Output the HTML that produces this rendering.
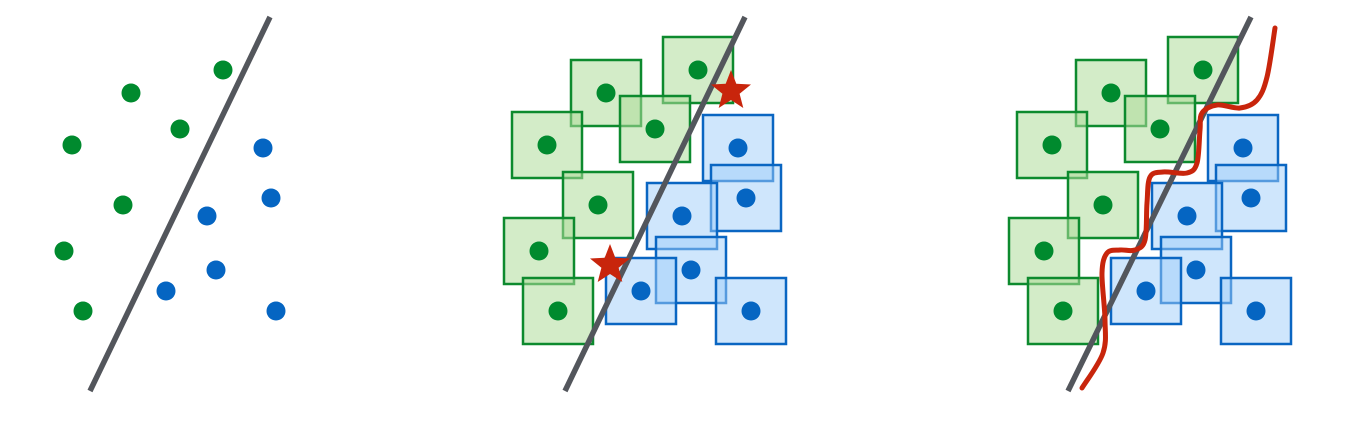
<!DOCTYPE html>
<html><head><meta charset="utf-8"><style>html,body{margin:0;padding:0;background:#fff}svg{display:block}</style></head>
<body>
<svg id="chart" width="1352" height="428" viewBox="0 0 1352 428" xmlns="http://www.w3.org/2000/svg"></svg>
<script>
const greenX=[223,131,72,180,123,64,83];
const greenY=[70,93,145,129,205,251,311];
const blueX=[263,271,207,216,166,276];
const blueY=[148,198,216,270,291,311];
const panelOffsets=[0,475,980];
const starX=[256,135];
const starY=[91,265];
const curveX=[102,123,125,122,127,140,155,165,167,170,183,207,217,220,222,237,260,277,287,295];
const curveY=[388,353,320,273,253,250,250,240,203,177,172,173,163,130,113,105,108,100,77,28];
const NS="http://www.w3.org/2000/svg";
const svg=document.getElementById('chart');
function mk(tag,attrs,parent){const e=document.createElementNS(NS,tag);for(const k in attrs)e.setAttribute(k,attrs[k]);(parent||svg).appendChild(e);return e;}
const sx=(v,p)=>v+panelOffsets[p];
panelOffsets.forEach((off,p)=>{
  const g=mk('g',{});
  
  
  if(p>0){
    greenX.forEach((x,i)=>{const r=mk('rect',{x:sx(x,p)-35,y:greenY[i]-33,width:70,height:66,fill:'rgba(175,221,155,0.55)',stroke:'#0d8a2e','stroke-width':2.5},g);
      
      });
    blueX.forEach((x,i)=>{const r=mk('rect',{x:sx(x,p)-35,y:blueY[i]-33,width:70,height:66,fill:'rgba(160,205,250,0.5)',stroke:'#0a66c2','stroke-width':2.5},g);
      
      });
  }
  const ln=mk('line',{x1:90+off+(p==2?-2:0),y1:391,x2:270+off+(p==2?1:0),y2:17,stroke:'#53565c','stroke-width':5.5},g);
  
  
  greenX.forEach((x,i)=>{const c=mk('circle',{cx:sx(x,p),cy:greenY[i],r:9.5,fill:'#008a2e'},g);
    
    });
  blueX.forEach((x,i)=>{const c=mk('circle',{cx:sx(x,p),cy:blueY[i],r:9.5,fill:'#0565c2'},g);
    
    });
  if(p==1){
    starX.forEach((x,i)=>{
      const cx=sx(x,p),cy=starY[i];let pts=[];
      for(let k=0;k<10;k++){const a=-Math.PI/2+k*Math.PI/5,r=k%2?9:21;pts.push((cx+r*Math.cos(a)).toFixed(1)+','+(cy+r*Math.sin(a)).toFixed(1));}
      const s=mk('polygon',{points:pts.join(' '),fill:'#c8250c'},g);
      
      
    });
  }
  if(p==2){
    const P=curveX.map((x,i)=>[sx(x,p),curveY[i]]);
    let d='M'+P[0][0]+','+P[0][1];
    for(let i=0;i<P.length-1;i++){
      const p0=P[Math.max(0,i-1)],p1=P[i],p2=P[i+1],p3=P[Math.min(P.length-1,i+2)];
      const c1=[p1[0]+(p2[0]-p0[0])/6,p1[1]+(p2[1]-p0[1])/6];
      const c2=[p2[0]-(p3[0]-p1[0])/6,p2[1]-(p3[1]-p1[1])/6];
      d+=' C'+c1.join(',')+' '+c2.join(',')+' '+p2.join(',');
    }
    const c=mk('path',{d:d,fill:'none',stroke:'#c8250c','stroke-width':5,'stroke-linecap':'round','stroke-linejoin':'round'},g);
    
    
  }
});
</script>
</body></html>
